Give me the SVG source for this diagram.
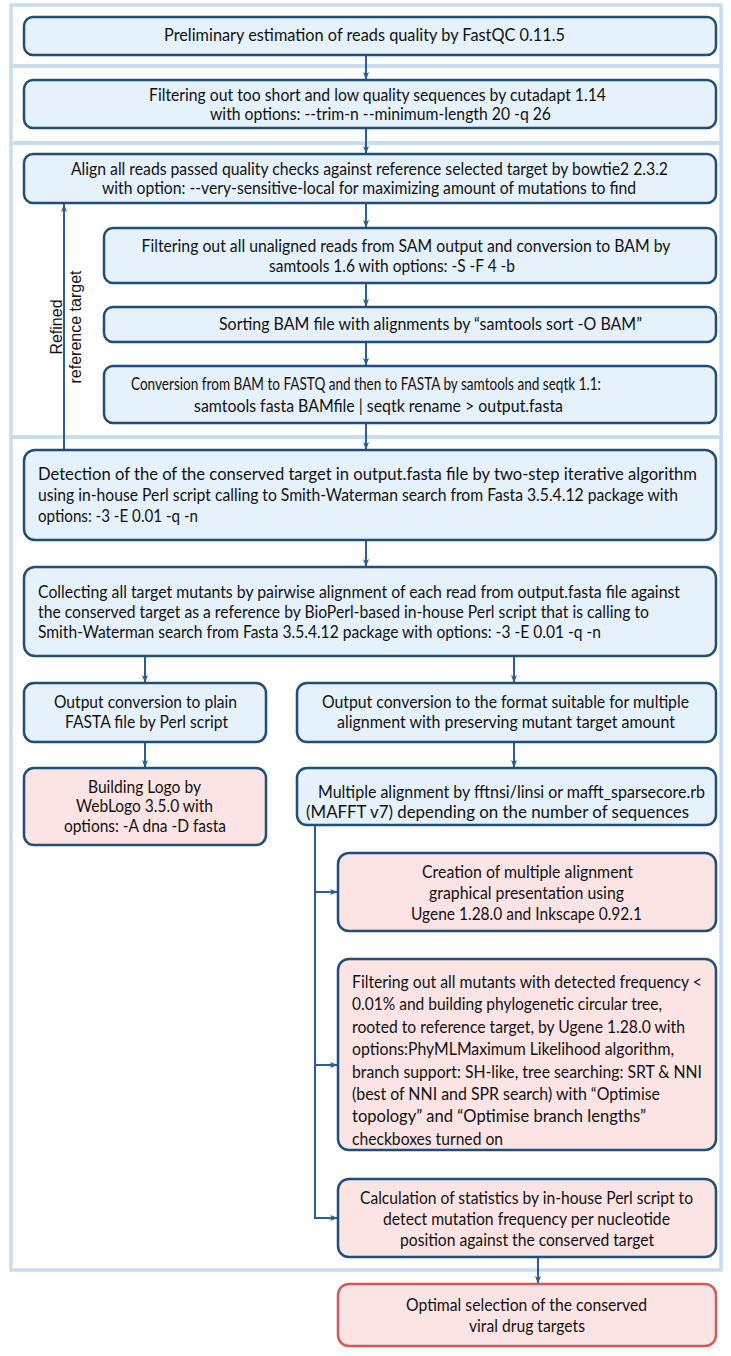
<svg xmlns="http://www.w3.org/2000/svg" width="731" height="1356" viewBox="0 0 731 1356">
<defs>
<marker id="ah" viewBox="0 0 8 6" refX="8" refY="3" markerWidth="8" markerHeight="6" markerUnits="userSpaceOnUse" orient="auto"><path d="M0,0 L8,3 L0,6 L2,3 Z" fill="#2b5f92"/></marker>
<style>
.fr{fill:none;stroke:#c8dcf0;stroke-width:3.5}
.bb{fill:#e5f1fb;stroke:#1f4e79;stroke-width:2.5}
.pb{fill:#fde4e4;stroke:#1f4e79;stroke-width:2.5}
.rb{fill:#fde4e4;stroke:#d4595a;stroke-width:2.5}
text{font-family:Lato,"Liberation Sans",sans-serif;font-size:16.4px;fill:#111}
.lbl{font-family:"Liberation Sans",Arial,sans-serif;font-size:16px;text-anchor:middle}
.cn{fill:none;stroke:#2b5f92;stroke-width:2}
.ca{fill:none;stroke:#2b5f92;stroke-width:2;marker-end:url(#ah)}
</style>
</defs>
<g id="frame">
<rect class="fr" x="11" y="5" width="710" height="61"/>
<rect class="fr" x="11" y="66" width="710" height="77"/>
<rect class="fr" x="11" y="143" width="710" height="294"/>
<rect class="fr" x="11" y="437" width="710" height="833"/>
</g>
<g id="connectors">
<line class="ca" x1="366" y1="55" x2="366" y2="80"/>
<line class="ca" x1="366" y1="128" x2="366" y2="154"/>
<line class="ca" x1="366" y1="203" x2="366" y2="228"/>
<line class="ca" x1="366" y1="283" x2="366" y2="307"/>
<line class="ca" x1="366" y1="342" x2="366" y2="366"/>
<line class="ca" x1="366" y1="423" x2="366" y2="450"/>
<line class="ca" x1="366" y1="540" x2="366" y2="567"/>
<line class="ca" x1="64" y1="450" x2="64" y2="204"/>
<line class="ca" x1="145" y1="656" x2="145" y2="683"/>
<line class="ca" x1="514" y1="656" x2="514" y2="683"/>
<line class="ca" x1="145" y1="742" x2="145" y2="768"/>
<line class="ca" x1="514" y1="742" x2="514" y2="768"/>
<polyline class="cn" points="315,825 315,1218"/>
<line class="ca" x1="315" y1="892" x2="338" y2="892"/>
<line class="ca" x1="315" y1="1065" x2="338" y2="1065"/>
<polyline class="ca" points="315,1217 315,1218 338,1218"/>
<line class="ca" x1="538" y1="1257" x2="538" y2="1284"/>
<text class="lbl" transform="translate(62,327) rotate(-90)">Refined</text>
<text class="lbl" transform="translate(81,327) rotate(-90)">reference target</text>
</g>
<g id="n1"><rect class="bb" x="24" y="17" width="692" height="38" rx="9"/>
<text x="164" y="41" textLength="401" lengthAdjust="spacingAndGlyphs">Preliminary estimation of reads quality by FastQC 0.11.5</text></g>
<g id="n2"><rect class="bb" x="24" y="80" width="692" height="48" rx="9"/>
<text x="149" y="101" textLength="457" lengthAdjust="spacingAndGlyphs">Filtering out too short and low quality sequences by cutadapt 1.14</text>
<text x="210" y="120" textLength="341" lengthAdjust="spacingAndGlyphs">with options: --trim-n --minimum-length 20 -q 26</text></g>
<g id="n3"><rect class="bb" x="24" y="154" width="692" height="49" rx="9"/>
<text x="71" y="175" textLength="597" lengthAdjust="spacingAndGlyphs">Align all reads passed quality checks against reference selected target by bowtie2 2.3.2</text>
<text x="102" y="194" textLength="534" lengthAdjust="spacingAndGlyphs">with option: --very-sensitive-local for maximizing amount of mutations to find</text></g>
<g id="n4"><rect class="bb" x="104" y="228" width="612" height="55" rx="9"/>
<text x="141.5" y="252" textLength="529" lengthAdjust="spacingAndGlyphs">Filtering out all unaligned reads from SAM output and conversion to BAM by</text>
<text x="269" y="272" textLength="246" lengthAdjust="spacingAndGlyphs">samtools 1.6 with options: -S -F 4 -b</text></g>
<g id="n5"><rect class="bb" x="104" y="307" width="612" height="35" rx="9"/>
<text x="219" y="330" textLength="423" lengthAdjust="spacingAndGlyphs">Sorting BAM file with alignments by “samtools sort -O BAM”</text></g>
<g id="n6"><rect class="bb" x="104" y="366" width="612" height="57" rx="9"/>
<text x="131" y="390" textLength="470" lengthAdjust="spacingAndGlyphs">Conversion from BAM to FASTQ and then to FASTA by samtools and seqtk 1.1:</text>
<text x="194" y="412" textLength="369" lengthAdjust="spacingAndGlyphs">samtools fasta BAMfile | seqtk rename &gt; output.fasta</text></g>
<g id="n7"><rect class="bb" x="24" y="450" width="692" height="90" rx="11"/>
<text x="38" y="480" textLength="659" lengthAdjust="spacingAndGlyphs">Detection of the of the conserved target in output.fasta file by two-step iterative algorithm</text>
<text x="38" y="501" textLength="640" lengthAdjust="spacingAndGlyphs">using in-house Perl script calling to Smith-Waterman search from Fasta 3.5.4.12 package with</text>
<text x="38" y="522" textLength="160" lengthAdjust="spacingAndGlyphs">options: -3 -E 0.01 -q -n</text></g>
<g id="n8"><rect class="bb" x="24" y="567" width="692" height="89" rx="11"/>
<text x="38" y="598" textLength="642" lengthAdjust="spacingAndGlyphs">Collecting all target mutants by pairwise alignment of each read from output.fasta file against</text>
<text x="38" y="618" textLength="611" lengthAdjust="spacingAndGlyphs">the conserved target as a reference by BioPerl-based in-house Perl script that is calling to</text>
<text x="38" y="638" textLength="563" lengthAdjust="spacingAndGlyphs">Smith-Waterman search from Fasta 3.5.4.12 package with options: -3 -E 0.01 -q -n</text></g>
<g id="n9"><rect class="bb" x="24" y="683" width="242" height="59" rx="10"/>
<text x="54" y="708" textLength="183" lengthAdjust="spacingAndGlyphs">Output conversion to plain</text>
<text x="65" y="728" textLength="163" lengthAdjust="spacingAndGlyphs">FASTA file by Perl script</text></g>
<g id="n10"><rect class="bb" x="297" y="683" width="419" height="59" rx="10"/>
<text x="322" y="708" textLength="367" lengthAdjust="spacingAndGlyphs">Output conversion to the format suitable for multiple</text>
<text x="337" y="728" textLength="338" lengthAdjust="spacingAndGlyphs">alignment with preserving mutant target amount</text></g>
<g id="n11"><rect class="pb" x="24" y="768" width="242" height="77" rx="10"/>
<text x="88" y="793" textLength="113" lengthAdjust="spacingAndGlyphs">Building Logo by</text>
<text x="76" y="812" textLength="137" lengthAdjust="spacingAndGlyphs">WebLogo 3.5.0 with</text>
<text x="64" y="832" textLength="162" lengthAdjust="spacingAndGlyphs">options: -A dna -D fasta</text></g>
<g id="n12"><rect class="bb" x="297" y="768" width="419" height="57" rx="10"/>
<text x="318" y="798" textLength="387" lengthAdjust="spacingAndGlyphs">Multiple alignment by fftnsi/linsi or mafft_sparsecore.rb</text>
<text x="306" y="818" textLength="383" lengthAdjust="spacingAndGlyphs">(MAFFT v7) depending on the number of sequences</text></g>
<g id="n13"><rect class="pb" x="338" y="853" width="378" height="78" rx="11"/>
<text x="422" y="878" textLength="211" lengthAdjust="spacingAndGlyphs">Creation of multiple alignment</text>
<text x="429" y="899" textLength="195" lengthAdjust="spacingAndGlyphs">graphical presentation using</text>
<text x="411" y="920" textLength="231" lengthAdjust="spacingAndGlyphs">Ugene 1.28.0 and Inkscape 0.92.1</text></g>
<g id="n14"><rect class="pb" x="338" y="959" width="378" height="191" rx="11"/>
<text x="352" y="988" textLength="350" lengthAdjust="spacingAndGlyphs">Filtering out all mutants with detected frequency &lt;</text>
<text x="352" y="1010.4" textLength="310" lengthAdjust="spacingAndGlyphs">0.01% and building phylogenetic circular tree,</text>
<text x="352" y="1032.8" textLength="333" lengthAdjust="spacingAndGlyphs">rooted to reference target, by Ugene 1.28.0 with</text>
<text x="352" y="1055.2" textLength="322" lengthAdjust="spacingAndGlyphs">options:PhyMLMaximum Likelihood algorithm,</text>
<text x="352" y="1077.6" textLength="350" lengthAdjust="spacingAndGlyphs">branch support: SH-like, tree searching: SRT &amp; NNI</text>
<text x="352" y="1100" textLength="308" lengthAdjust="spacingAndGlyphs">(best of NNI and SPR search) with “Optimise</text>
<text x="352" y="1122.4" textLength="294" lengthAdjust="spacingAndGlyphs">topology” and “Optimise branch lengths”</text>
<text x="352" y="1144.8" textLength="151" lengthAdjust="spacingAndGlyphs">checkboxes turned on</text></g>
<g id="n15"><rect class="pb" x="338" y="1179" width="378" height="78" rx="11"/>
<text x="360" y="1204" textLength="333" lengthAdjust="spacingAndGlyphs">Calculation of statistics by in-house Perl script to</text>
<text x="383" y="1225" textLength="287" lengthAdjust="spacingAndGlyphs">detect mutation frequency per nucleotide</text>
<text x="400" y="1246" textLength="254" lengthAdjust="spacingAndGlyphs">position against the conserved target</text></g>
<g id="n16"><rect class="rb" x="338" y="1284" width="378" height="62" rx="11"/>
<text x="406" y="1311" textLength="241" lengthAdjust="spacingAndGlyphs">Optimal selection of the conserved</text>
<text x="469" y="1332" textLength="116" lengthAdjust="spacingAndGlyphs">viral drug targets</text></g>
</svg>
